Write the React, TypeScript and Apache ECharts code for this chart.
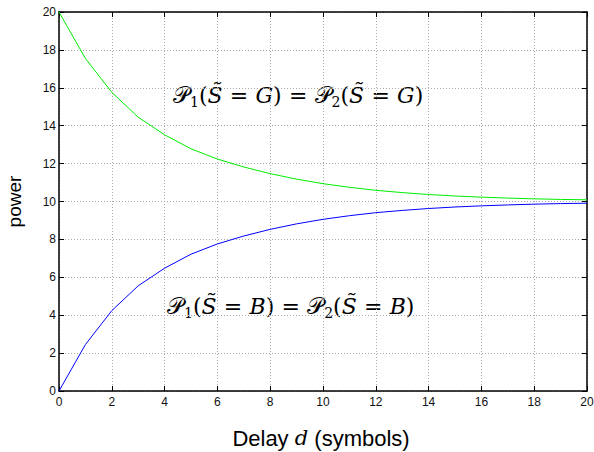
import React, { useEffect, useRef } from "react";
import * as echarts from "echarts";

const delays = [0, 1, 2, 3, 4, 5, 6, 7, 8, 9, 10, 11, 12, 13, 14, 15, 16, 17, 18, 19, 20];
const powerGood = [20, 17.55, 15.76, 14.45, 13.52, 12.78, 12.24, 11.82, 11.47, 11.18, 10.94, 10.75, 10.59, 10.47, 10.37, 10.29, 10.23, 10.18, 10.14, 10.11, 10.09];
const powerBad = [0, 2.45, 4.24, 5.55, 6.48, 7.22, 7.76, 8.18, 8.53, 8.82, 9.06, 9.25, 9.41, 9.53, 9.63, 9.71, 9.77, 9.82, 9.86, 9.89, 9.91];
const xTicks = [0, 2, 4, 6, 8, 10, 12, 14, 16, 18, 20];
const yTicks = [0, 2, 4, 6, 8, 10, 12, 14, 16, 18, 20];

const stateGood = "G";
const stateBad = "B";

function richLabel(state: string) {
  return (
    `{p|𝒫}{s|1}{m|(}{i|S̃}{m|\u2004=\u2004}{i|${state}}{m|)\u2004=\u2004}` +
    `{p|𝒫}{s|2}{m|(}{i|S̃}{m|\u2004=\u2004}{i|${state}}{m|)}`
  );
}

const SERIF = "'DejaVu Serif', 'Liberation Serif', serif";
const SANS = "'Liberation Sans', Arial, sans-serif";

export default function App() {
  const ref = useRef<HTMLDivElement>(null);
  useEffect(() => {
    if (!ref.current) return;
    const chart = echarts.init(ref.current, undefined, { renderer: "svg" });
    const rich = {
      p: { fontFamily: SERIF, fontSize: 23, color: "#111", lineHeight: 28, verticalAlign: "middle" },
      m: { fontFamily: SERIF, fontSize: 22, color: "#111", lineHeight: 28, verticalAlign: "middle" },
      i: { fontFamily: SERIF, fontStyle: "italic", fontSize: 22, color: "#111", lineHeight: 28, verticalAlign: "middle" },
      s: { fontFamily: SERIF, fontSize: 14, color: "#111", lineHeight: 28, verticalAlign: "bottom" },
    };
    const axisCommon = {
      type: "value",
      min: 0,
      max: 20,
      interval: 2,
    };
    chart.setOption({
      animation: false,
      backgroundColor: "#fff",
      grid: { left: 59, right: 7, top: 12, bottom: 61, containLabel: false, outerBoundsMode: "none" },
      xAxis: [
        {
          ...axisCommon,
          position: "bottom",
          axisLine: { show: true, onZero: false, lineStyle: { color: "#000", width: 1.5 } },
          axisTick: { show: true, inside: true, length: 5, lineStyle: { color: "#000" } },
          axisLabel: {
            color: "#111",
            fontFamily: SANS,
            fontSize: 12,
            margin: 5,
            hideOverlap: false,
            formatter: (v: number) => (xTicks.includes(v) ? String(v) : ""),
          },
          splitLine: { show: true, lineStyle: { color: "#aaa", type: [1, 2], width: 1 } },
        },
        {
          ...axisCommon,
          position: "top",
          axisLine: { show: true, onZero: false, lineStyle: { color: "#000", width: 1.5 } },
          axisTick: { show: true, inside: true, length: 5, lineStyle: { color: "#000" } },
          axisLabel: { show: false },
          splitLine: { show: false },
        },
      ],
      yAxis: [
        {
          ...axisCommon,
          position: "left",
          name: "power",
          nameLocation: "middle",
          nameGap: 35,
          nameTextStyle: { fontFamily: SANS, fontSize: 19, color: "#000" },
          axisLine: { show: true, onZero: false, lineStyle: { color: "#000", width: 1.5 } },
          axisTick: { show: true, inside: true, length: 5, lineStyle: { color: "#000" } },
          axisLabel: {
            color: "#111",
            fontFamily: SANS,
            fontSize: 12,
            margin: 3,
            formatter: (v: number) => (yTicks.includes(v) ? String(v) : ""),
          },
          splitLine: { show: true, lineStyle: { color: "#aaa", type: [1, 2], width: 1 } },
        },
        {
          ...axisCommon,
          position: "right",
          axisLine: { show: true, onZero: false, lineStyle: { color: "#000", width: 1.5 } },
          axisTick: { show: true, inside: true, length: 5, lineStyle: { color: "#000" } },
          axisLabel: { show: false },
          splitLine: { show: false },
        },
      ],
      series: [
        {
          type: "line",
          data: delays.map((d, i) => [d, powerGood[i]]),
          showSymbol: false,
          lineStyle: { color: "#00ee00", width: 1 },
        },
        {
          type: "line",
          data: delays.map((d, i) => [d, powerBad[i]]),
          showSymbol: false,
          lineStyle: { color: "#0000ff", width: 1 },
        },
      ],
      graphic: [
        {
          type: "text",
          x: 173,
          y: 95,
          style: { text: richLabel(stateGood), rich, verticalAlign: "middle" },
        },
        {
          type: "text",
          x: 167,
          y: 306,
          style: { text: richLabel(stateBad), rich, verticalAlign: "middle" },
        },
        {
          type: "text",
          x: 321,
          y: 438,
          style: {
            text: "{a|Delay }{d|d}{a| (symbols)}",
            align: "center",
            verticalAlign: "middle",
            rich: {
              a: { fontFamily: SANS, fontSize: 22, color: "#000" },
              d: { fontFamily: SERIF, fontStyle: "italic", fontSize: 21, color: "#000" },
            },
          },
        },
      ],
    });
    return () => chart.dispose();
  }, []);
  return (
    <div
      ref={ref}
      style={{ position: "fixed", left: 0, top: 0, width: 594, height: 452 }}
    />
  );
}
